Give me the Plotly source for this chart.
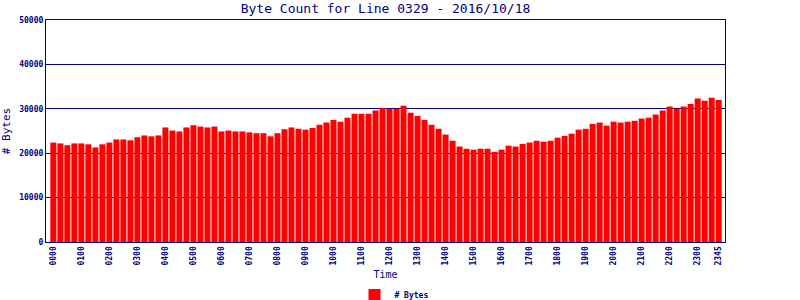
import plotly.graph_objects as go

times = [f"{h:02d}{m:02d}" for h in range(24) for m in (0, 15, 30, 45)]

byte_counts = [
    22400, 22200, 21800, 22200, 22200, 22000, 21300, 22000,
    22400, 23100, 23100, 22900, 23600, 24000, 23800, 24000,
    25800, 25100, 24900, 25800, 26300, 26000, 25800, 26000,
    24900, 25100, 24900, 24900, 24700, 24500, 24500, 23800,
    24500, 25400, 25800, 25500, 25300, 25700, 26400, 26900,
    27500, 27100, 28000, 28900, 28900, 28900, 29600, 30200,
    30000, 30000, 30700, 29100, 28400, 27500, 26400, 25500,
    24200, 22800, 21500, 21000, 20800, 21000, 21000, 20300,
    20800, 21700, 21500, 22100, 22400, 22800, 22600, 22800,
    23500, 23900, 24400, 25300, 25500, 26600, 26900, 26200,
    27100, 26900, 27100, 27300, 27800, 28000, 28700, 29600,
    30500, 30000, 30500, 31100, 32300, 31800, 32500, 32000,
]

tick_labels = [t for i, t in enumerate(times) if i % 4 == 0] + ["2345"]
y_ticks = [0, 10000, 20000, 30000, 40000, 50000]
y_tick_text = [str(v) for v in y_ticks]

NAVY = "#000080"
MONO = "DejaVu Sans Mono"

fig = go.Figure()
fig.add_trace(go.Bar(
    x=times, y=byte_counts, name="# Bytes",
    marker=dict(color="#FF0000", line=dict(width=0)),
))

fig.update_layout(
    width=800, height=300,
    margin=dict(l=46, r=75, t=20, b=58, autoexpand=False),
    paper_bgcolor="white", plot_bgcolor="white",
    bargap=0.14,
    title=dict(text="Byte Count for Line 0329 - 2016/10/18",
               x=(46 + 339.5) / 800, xanchor="center", y=0.972, yanchor="middle",
               font=dict(family=MONO, size=13, color=NAVY)),
    showlegend=True,
    legend=dict(orientation="h", x=(46 + 364) / 800, xanchor="center",
                yref="container", y=5 / 300, yanchor="middle",
                font=dict(family=MONO, size=8, color=NAVY, weight="bold"),
                itemwidth=30, bgcolor="rgba(0,0,0,0)"),
    font=dict(family=MONO, color=NAVY),
)

fig.update_xaxes(
    type="category", range=[-1.05, 95.9], automargin=False,
    tickmode="array", tickvals=tick_labels, ticktext=tick_labels,
    tickangle=-90, tickfont=dict(family=MONO, size=8, color=NAVY, weight="bold"),
    showgrid=False, showline=True, linecolor=NAVY, linewidth=1.2, mirror=True,
    ticks="", zeroline=False,
    title=dict(text="Time", font=dict(family=MONO, size=10, color=NAVY), standoff=14),
)

fig.update_yaxes(
    range=[0, 50000], tickvals=y_ticks, ticktext=y_tick_text, automargin=False,
    tickfont=dict(family=MONO, size=8, color=NAVY, weight="bold"),
    showgrid=True, gridcolor=NAVY, gridwidth=1.2,
    showline=True, linecolor=NAVY, linewidth=1.2, mirror=True,
    ticks="", zeroline=False,
    title=dict(text="# Bytes", font=dict(family=MONO, size=11, color=NAVY), standoff=6),
)

fig.write_html("out.html")
